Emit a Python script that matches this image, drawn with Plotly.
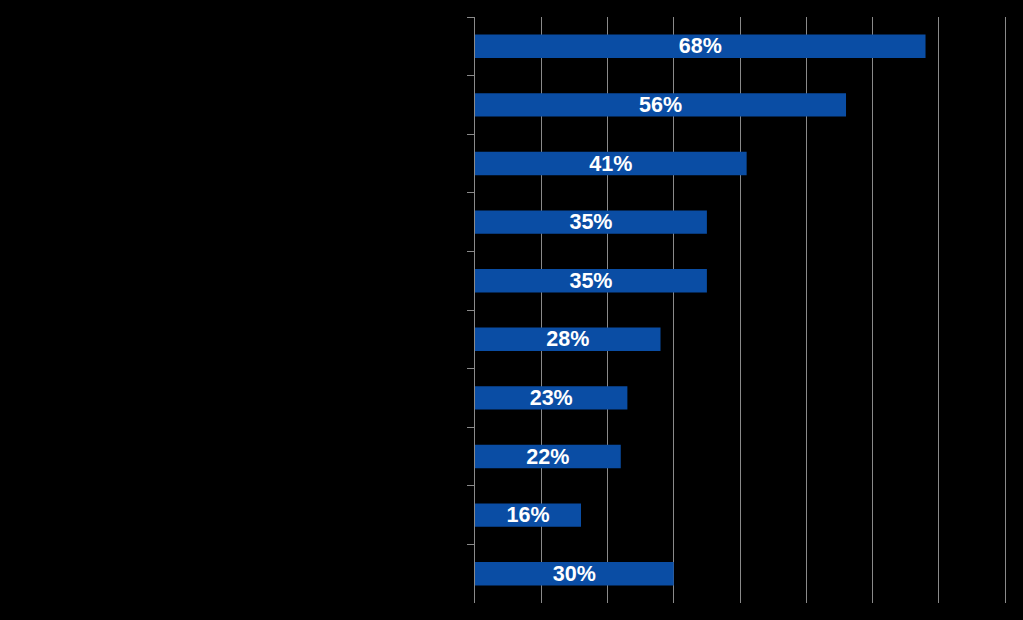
import plotly.graph_objects as go

categories = ["Item 1", "Item 2", "Item 3", "Item 4", "Item 5",
              "Item 6", "Item 7", "Item 8", "Item 9", "Item 10"]
values = [68, 56, 41, 35, 35, 28, 23, 22, 16, 30]
labels = ["68%", "56%", "41%", "35%", "35%", "28%", "23%", "22%", "16%", "30%"]

fig = go.Figure(go.Bar(
    x=values, y=categories, orientation="h",
    marker=dict(color="#0A4DA4", line=dict(width=0)),
    width=0.4,
    text=labels, textposition="inside", insidetextanchor="middle",
    textfont=dict(family="Liberation Sans, Arial", size=21.5, color="white", weight="bold"),
    textangle=0,
    hoverinfo="skip",
))

fig.update_layout(
    width=1023, height=620,
    paper_bgcolor="black", plot_bgcolor="black",
    margin=dict(l=475, r=14, t=17, b=17),
    showlegend=False,
    uniformtext=dict(minsize=21, mode="show"),
)
fig.update_xaxes(range=[0, 80.6], dtick=10, tick0=0, showgrid=True, gridcolor="#8a8a8a", gridwidth=1,
                 showticklabels=False, zeroline=False, showline=False, ticks="")
fig.update_yaxes(autorange="reversed", showticklabels=False, showgrid=False,
                 showline=True, linecolor="#8a8a8a", linewidth=1,
                 ticks="outside", tickson="boundaries", ticklen=7, tickcolor="#8a8a8a")

fig.write_html("out.html", config={"displayModeBar": False},
               post_script="document.body.style.margin='0';document.body.style.background='black';")
